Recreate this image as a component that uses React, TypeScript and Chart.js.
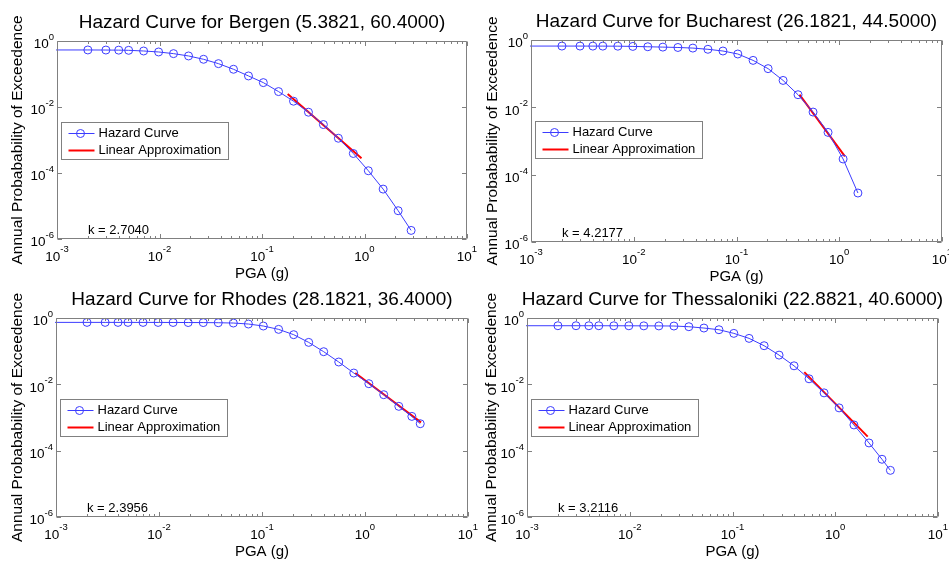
import React, { useEffect, useRef } from "react";
import { Chart, registerables } from "chart.js";
Chart.register(...registerables);

// ---------------- DATA ----------------
const pgaLevels = [0.0005, 0.002, 0.003, 0.004, 0.005, 0.007, 0.0098, 0.0137, 0.0192, 0.0269, 0.0376, 0.0527, 0.0738, 0.103, 0.145, 0.203, 0.284, 0.397, 0.556, 0.778, 1.09, 1.52, 2.13, 2.85, 3.44];

const bergenHazard = [0.535, 0.535, 0.532, 0.528, 0.522, 0.498, 0.465, 0.414, 0.352, 0.279, 0.206, 0.139, 0.0873, 0.0548, 0.0293, 0.015, 0.00695, 0.00294, 0.00113, 3.9e-4, 1.17e-4, 3.25e-5, 7.2e-6, 1.82e-6];
const bucharestHazard = [0.66, 0.66, 0.66, 0.659, 0.658, 0.655, 0.645, 0.63, 0.615, 0.6, 0.575, 0.53, 0.471, 0.384, 0.248, 0.141, 0.063, 0.0237, 0.00724, 0.0018, 2.92e-4, 2.85e-5];
const rhodesHazard = [0.738, 0.738, 0.738, 0.737, 0.737, 0.736, 0.735, 0.733, 0.73, 0.727, 0.72, 0.705, 0.658, 0.573, 0.454, 0.314, 0.184, 0.0964, 0.0471, 0.0219, 0.01045, 0.00487, 0.00217, 0.00108, 6.5e-4];
const thessalonikiHazard = [0.585, 0.585, 0.585, 0.584, 0.584, 0.583, 0.582, 0.58, 0.577, 0.573, 0.546, 0.498, 0.443, 0.344, 0.243, 0.146, 0.076, 0.0362, 0.0147, 0.00553, 0.00195, 5.97e-4, 1.71e-4, 5.5e-5, 2.55e-5];

const bergenFitX = [0.178, 0.935];
const bergenFitY = [0.0249, 2.82e-4];
const bucharestFitX = [0.41, 1.135];
const bucharestFitY = [0.0237, 3.49e-4];
const rhodesFitX = [0.805, 3.5];
const rhodesFitY = [0.0219, 7.15e-4];
const thessalonikiFitX = [0.5, 2.07];
const thessalonikiFitY = [0.0233, 2.65e-4];

const cityNames = ["Bergen", "Bucharest", "Rhodes", "Thessaloniki"];
const cityCoords = ["(5.3821, 60.4000)", "(26.1821, 44.5000)", "(28.1821, 36.4000)", "(22.8821, 40.6000)"];
const kValues = ["2.7040", "4.2177", "2.3956", "3.2116"];

const xTickValues = [1e-3, 1e-2, 1e-1, 1, 10];
const xTickExponents = ["-3", "-2", "-1", "0", "1"];
const yTickValues = [1, 1e-2, 1e-4, 1e-6];
const yTickExponents = ["0", "-2", "-4", "-6"];

const xAxisTitle = "PGA (g)";
const yAxisTitle = "Annual Probabability of Exceedence";
const legendLabels = ["Hazard Curve", "Linear Approximation"];

// ---------------- LAYOUT / STYLE ----------------
const W = 949;
const H = 563;
const FONT = '"Liberation Sans", Arial, Helvetica, sans-serif';
const BLUE = "#3c3cff";
const RED = "#ff0000";
const AXIS = "#808080";

const layouts = [
  { left: 57, top: 41, right: 467, bottom: 239, ylabelX: 18 },
  { left: 531, top: 40, right: 942, bottom: 242, ylabelX: 493 },
  { left: 56, top: 318, right: 468, bottom: 517, ylabelX: 18 },
  { left: 527, top: 318, right: 938, bottom: 517, ylabelX: 492 },
];

const hazardSeries = [bergenHazard, bucharestHazard, rhodesHazard, thessalonikiHazard];
const fitXSeries = [bergenFitX, bucharestFitX, rhodesFitX, thessalonikiFitX];
const fitYSeries = [bergenFitY, bucharestFitY, rhodesFitY, thessalonikiFitY];

const matlabAxes = {
  id: "matlabAxes",
  afterDatasetsDraw(chart: any, _args: any, opts: any) {
    const { ctx, chartArea: a, scales } = chart;
    const xs = scales.x;
    const ys = scales.y;
    const L = Math.round(a.left) + 0.5;
    const T = Math.round(a.top) + 0.5;
    const R = Math.round(a.right) - 0.5;
    const B = Math.round(a.bottom) - 0.5;
    ctx.save();
    ctx.strokeStyle = AXIS;
    ctx.lineWidth = 1;
    ctx.beginPath();
    ctx.rect(L, T, R - L, B - T);
    ctx.stroke();

    // x ticks (major + minor), bottom and top, inside
    ctx.beginPath();
    for (let d = -3; d <= 0; d++) {
      for (let m = 2; m <= 9; m++) {
        const px = Math.round(xs.getPixelForValue(m * Math.pow(10, d))) + 0.5;
        ctx.moveTo(px, B); ctx.lineTo(px, B - 2.5);
        ctx.moveTo(px, T); ctx.lineTo(px, T + 2.5);
      }
    }
    xTickValues.forEach((v) => {
      const px = Math.round(xs.getPixelForValue(v)) + 0.5;
      ctx.moveTo(px, B); ctx.lineTo(px, B - 4.5);
      ctx.moveTo(px, T); ctx.lineTo(px, T + 4.5);
    });
    yTickValues.forEach((v) => {
      const py = Math.round(ys.getPixelForValue(v)) + 0.5;
      ctx.moveTo(L, py); ctx.lineTo(L + 4.5, py);
      ctx.moveTo(R, py); ctx.lineTo(R - 4.5, py);
    });
    ctx.stroke();

    ctx.fillStyle = "#000";
    ctx.textBaseline = "middle";
    const baseFont = `13.5px ${FONT}`;
    const expFont = `9.5px ${FONT}`;

    // x tick labels
    xTickValues.forEach((v, i) => {
      const px = xs.getPixelForValue(v);
      ctx.font = baseFont;
      const wb = ctx.measureText("10").width;
      ctx.font = expFont;
      const we = ctx.measureText(xTickExponents[i]).width;
      const start = px - (wb + we) / 2;
      ctx.textAlign = "left";
      ctx.font = baseFont;
      ctx.fillText("10", start, a.bottom + 18);
      ctx.font = expFont;
      ctx.fillText(xTickExponents[i], start + wb, a.bottom + 10.5);
    });

    // y tick labels
    yTickValues.forEach((v, i) => {
      const py = ys.getPixelForValue(v);
      ctx.font = expFont;
      const we = ctx.measureText(yTickExponents[i]).width;
      const rightEdge = a.left - 3;
      ctx.textAlign = "left";
      ctx.fillText(yTickExponents[i], rightEdge - we, py - 3.5);
      ctx.font = baseFont;
      ctx.textAlign = "right";
      ctx.fillText("10", rightEdge - we, py + 3.5);
    });

    // title
    const cx = (a.left + a.right) / 2;
    ctx.textAlign = "center";
    ctx.font = `19px ${FONT}`;
    ctx.fillText(opts.title, cx, a.top - 18);

    // x axis title
    ctx.font = `15px ${FONT}`;
    ctx.fillText(xAxisTitle, cx, a.bottom + 35);

    // y axis title
    ctx.save();
    ctx.translate(opts.ylabelX, (a.top + a.bottom) / 2);
    ctx.rotate(-Math.PI / 2);
    ctx.font = `15.5px ${FONT}`;
    ctx.textAlign = "center";
    ctx.fillText(yAxisTitle, 0, 0);
    ctx.restore();

    // k text
    ctx.font = `13px ${FONT}`;
    ctx.textAlign = "left";
    ctx.fillText(opts.kText, a.left + 31, a.bottom - 9);

    // legend
    const lx = Math.round(a.left) + 4.5;
    const ly = Math.round(a.top) + 81.5;
    ctx.fillStyle = "#fff";
    ctx.fillRect(lx, ly, 167, 37);
    ctx.strokeStyle = AXIS;
    ctx.lineWidth = 1;
    ctx.strokeRect(lx, ly, 167, 37);
    const r1 = ly + 11;
    const r2 = ly + 28;
    ctx.strokeStyle = BLUE;
    ctx.beginPath();
    ctx.moveTo(lx + 7, r1); ctx.lineTo(lx + 33, r1);
    ctx.stroke();
    ctx.beginPath();
    ctx.arc(lx + 19, r1, 4, 0, Math.PI * 2);
    ctx.stroke();
    ctx.strokeStyle = RED;
    ctx.lineWidth = 2;
    ctx.beginPath();
    ctx.moveTo(lx + 7, r2); ctx.lineTo(lx + 33, r2);
    ctx.stroke();
    ctx.fillStyle = "#000";
    ctx.font = `13px ${FONT}`;
    ctx.textAlign = "left";
    ctx.fillText(legendLabels[0], lx + 37, r1);
    ctx.fillText(legendLabels[1], lx + 37, r2);
    ctx.restore();
  },
};

function SubPlot({ index }: { index: number }) {
  const ref = useRef<HTMLCanvasElement | null>(null);
  useEffect(() => {
    if (!ref.current) return;
    const lay = layouts[index];
    const hazard = hazardSeries[index];
    const hazardPoints = hazard.map((y, i) => ({ x: pgaLevels[i], y }));
    const fitPoints = fitXSeries[index].map((x, i) => ({ x, y: fitYSeries[index][i] }));
    const chart = new Chart(ref.current, {
      type: "line",
      data: {
        datasets: [
          {
            label: legendLabels[0],
            data: hazardPoints,
            borderColor: BLUE,
            borderWidth: 1,
            pointRadius: 4,
            pointBorderWidth: 1,
            pointBorderColor: BLUE,
            pointBackgroundColor: "rgba(0,0,0,0)",
            pointStyle: "circle",
            tension: 0,
            fill: false,
            clip: 1,
          } as any,
          {
            label: legendLabels[1],
            data: fitPoints,
            borderColor: RED,
            borderWidth: 2,
            pointRadius: 0,
            tension: 0,
            fill: false,
          } as any,
        ],
      },
      options: {
        animation: false,
        responsive: false,
        devicePixelRatio: 1,
        events: [],
        layout: {
          padding: { left: lay.left, top: lay.top, right: W - lay.right, bottom: H - lay.bottom },
        },
        scales: {
          x: { type: "logarithmic", min: 1e-3, max: 10, display: false },
          y: { type: "logarithmic", min: 1e-6, max: 1, display: false },
        },
        plugins: {
          legend: { display: false },
          tooltip: { enabled: false },
          title: { display: false },
          matlabAxes: {
            title: `Hazard Curve for ${cityNames[index]} ${cityCoords[index]}`,
            kText: `k = ${kValues[index]}`,
            ylabelX: lay.ylabelX,
          },
        } as any,
      },
      plugins: [matlabAxes as any],
    });
    return () => chart.destroy();
  }, [index]);
  return (
    <canvas
      ref={ref}
      width={W}
      height={H}
      style={{ position: "absolute", left: 0, top: 0, width: W, height: H }}
    />
  );
}

export default function App() {
  return (
    <div style={{ position: "absolute", left: 0, top: 0, width: W, height: H, background: "#fff", overflow: "hidden" }}>
      {[0, 1, 2, 3].map((i) => (
        <SubPlot key={i} index={i} />
      ))}
    </div>
  );
}
